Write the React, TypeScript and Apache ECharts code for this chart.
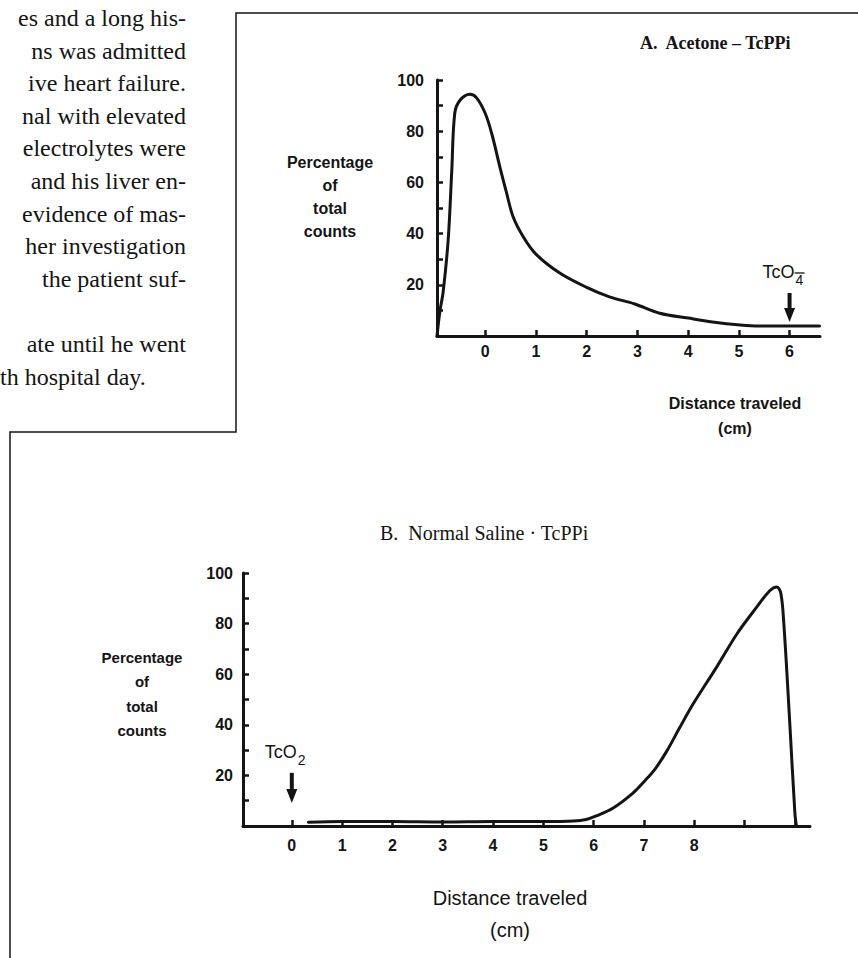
import React, { useEffect, useRef } from 'react';
import * as echarts from 'echarts';

// ---------- text of the page ----------
const bodyLines = [
  'es and a long his-',
  'ns was admitted',
  'ive heart failure.',
  'nal with elevated',
  'electrolytes were',
  'and his liver en-',
  'evidence of mas-',
  'her investigation',
  ' the patient suf-',
  '',
  'ate until he went',
];
const bodyLastLine = 'th hospital day.';

const titleA = 'A.  Acetone \u2013 TcPPi';
const titleB = 'B.  Normal Saline \u00b7 TcPPi';
const axisTitleY = ['Percentage', 'of', 'total', 'counts'];
const axisTitleX = ['Distance traveled', '(cm)'];

// ---------- chart A : Acetone - TcPPi ----------
const acetoneX = [-0.95, -0.89, -0.83, -0.73, -0.66, -0.6, -0.5, -0.3, -0.17, 0, 0.13, 0.29, 0.42, 0.55, 0.75, 1, 1.47, 2, 2.45, 2.95, 3.44, 4, 4.48, 5.03, 5.4, 6, 6.59];
const acetoneY = [0, 10, 17, 37.5, 64, 87, 92, 94.4, 93, 87, 79, 66, 56, 46.6, 38.8, 32, 24.6, 19, 15.3, 12.5, 8.9, 7, 5.5, 4.3, 3.9, 3.9, 3.9];
const xTicksA = [0, 1, 2, 3, 4, 5, 6];
const xLabelsA = ['0', '1', '2', '3', '4', '5', '6'];

// ---------- chart B : Normal Saline - TcPPi ----------
const salineX = [0.33, 1, 2, 3, 4, 5, 5.6, 5.85, 6.05, 6.38, 6.78, 7.0, 7.22, 7.45, 7.7, 7.97, 8.45, 8.85, 9.24, 9.5, 9.64, 9.72, 9.78, 9.9, 10.0, 10.03];
const salineY = [1.5, 1.8, 1.8, 1.6, 1.8, 1.8, 2, 2.6, 4, 7, 13, 17.5, 22.5, 29.5, 38.5, 48, 63, 76, 86.5, 93, 94.5, 92, 80, 40, 5, 0];
const xTicksB = [0, 1, 2, 3, 4, 5, 6, 7, 8, 9, 10];
const xLabelsB = ['0', '1', '2', '3', '4', '5', '6', '7', '8'];

const yTickLabels = ['20', '40', '60', '80', '100'];

// arrow markers (data units): x position, arrow top value, arrow tip value
const markerA = { x: 6, top: 16.8, tip: 5.5, main: 'TcO', sub: '4', overline: true };
const markerB = { x: 0, top: 21, tip: 9.1, main: 'TcO', sub: '2', overline: false };

const INK = '#141414';
const SANS = '"Liberation Sans", Arial, sans-serif';
const SERIF = '"Liberation Serif", "Times New Roman", serif';

function zip(xs: number[], ys: number[]) {
  return xs.map((x, i) => [x, ys[i]]);
}

function txt(id: string, text: string, x: number, y: number, font: string, align: string = 'center') {
  return {
    type: 'text',
    id,
    x,
    y,
    silent: true,
    style: { text, font, fill: INK, align, verticalAlign: 'middle', textAlign: align, textVerticalAlign: 'middle' },
  };
}

function xAxis(gridIndex: number, min: number, max: number, ticks: number[], labels: string[], margin: number) {
  return {
    type: 'value',
    gridIndex,
    min,
    max,
    axisLine: { show: true, onZero: false, lineStyle: { color: INK, width: 3 } },
    axisTick: { show: true, inside: true, length: 6, customValues: ticks, lineStyle: { color: INK, width: 2.5 } },
    axisLabel: {
      show: true,
      customValues: labels.map(Number),
      margin,
      color: INK,
      fontFamily: SANS,
      fontWeight: 'bold',
      fontSize: 16,
    },
    splitLine: { show: false },
  };
}

function yAxis(gridIndex: number, margin: number) {
  return {
    type: 'value',
    gridIndex,
    min: 0,
    max: 100,
    interval: 10,
    axisLine: { show: true, onZero: false, lineStyle: { color: INK, width: 3 } },
    axisTick: { show: true, inside: true, length: 6, lineStyle: { color: INK, width: 2.5 } },
    axisLabel: {
      show: true,
      margin,
      color: INK,
      fontFamily: SANS,
      fontWeight: 'bold',
      fontSize: 16,
      formatter: (v: number) => (yTickLabels.includes(String(v)) ? String(v) : ''),
    },
    splitLine: { show: false },
  };
}

function staticGraphics() {
  const g: any[] = [];
  g.push({
    type: 'polyline',
    id: 'box',
    silent: true,
    shape: { points: [[858, 13], [236, 13], [236, 432], [10, 432], [10, 958]] },
    style: { stroke: INK, lineWidth: 1.5, fill: 'none' },
  });
  bodyLines.forEach((line, k) => {
    if (line) g.push(txt('body' + k, line, 186, 18 + 32.6 * k, '24px ' + SERIF, 'right'));
  });
  g.push(txt('bodyLast', bodyLastLine, 0, 18 + 32.6 * 11, '24px ' + SERIF, 'left'));

  g.push(txt('titleA', titleA, 640, 43, 'bold 18px ' + SERIF, 'left'));
  g.push(txt('titleB', titleB, 380, 533, '20px ' + SERIF, 'left'));

  axisTitleY.forEach((t, i) => {
    g.push(txt('ayA' + i, t, 330, 162 + 23 * i, 'bold 16px ' + SANS));
    g.push(txt('ayB' + i, t, 142, 657 + 24.5 * i, 'bold 15px ' + SANS));
  });
  g.push(txt('axA0', axisTitleX[0], 735, 403, 'bold 16px ' + SANS));
  g.push(txt('axA1', axisTitleX[1], 735, 428, 'bold 16px ' + SANS));
  g.push(txt('axB0', axisTitleX[0], 510, 898, '20px ' + SANS));
  g.push(txt('axB1', axisTitleX[1], 510, 930, '20px ' + SANS));
  return g;
}

function markerGraphics(chart: any, gridIndex: number, m: any, key: string) {
  const top = chart.convertToPixel({ gridIndex }, [m.x, m.top]);
  const tip = chart.convertToPixel({ gridIndex }, [m.x, m.tip]);
  const px = top[0];
  const g: any[] = [];
  g.push({
    type: 'line',
    id: key + 'shaft',
    silent: true,
    shape: { x1: px, y1: top[1], x2: px, y2: tip[1] - 10 },
    style: { stroke: INK, lineWidth: 4 },
  });
  g.push({
    type: 'polygon',
    id: key + 'head',
    silent: true,
    shape: { points: [[px - 5.5, tip[1] - 14], [px + 5.5, tip[1] - 14], [px, tip[1]]] },
    style: { fill: INK },
  });
  const ly = top[1] - 21;
  g.push(txt(key + 'main', m.main, px - 27, ly, '18px ' + SANS, 'left'));
  g.push(txt(key + 'sub', m.sub, px + 6, ly + 8, '14px ' + SANS, 'left'));
  if (m.overline) {
    g.push({
      type: 'line',
      id: key + 'over',
      silent: true,
      shape: { x1: px + 5, y1: ly + 1, x2: px + 15, y2: ly + 1 },
      style: { stroke: INK, lineWidth: 1.3 },
    });
  }
  return g;
}

export default function App() {
  const ref = useRef<HTMLDivElement>(null);

  useEffect(() => {
    if (!ref.current) return;
    const chart = echarts.init(ref.current, null, { renderer: 'svg' });
    const option: any = {
      animation: false,
      backgroundColor: '#ffffff',
      grid: [
        { left: 437, top: 80, width: 383, height: 256, containLabel: false },
        { left: 243, top: 573, width: 567, height: 253, containLabel: false },
      ],
      xAxis: [xAxis(0, -0.95, 6.6, xTicksA, xLabelsA, 7), xAxis(1, -0.97, 10.3, xTicksB, xLabelsB, 11)],
      yAxis: [yAxis(0, 13), yAxis(1, 10)],
      series: [
        {
          type: 'line',
          name: 'Acetone - TcPPi',
          xAxisIndex: 0,
          yAxisIndex: 0,
          data: zip(acetoneX, acetoneY),
          symbol: 'none',
          smooth: 0.35,
          lineStyle: { color: INK, width: 3, join: 'round', cap: 'round' },
        },
        {
          type: 'line',
          name: 'Normal Saline - TcPPi',
          xAxisIndex: 1,
          yAxisIndex: 1,
          data: zip(salineX, salineY),
          symbol: 'none',
          smooth: 0.35,
          lineStyle: { color: INK, width: 3, join: 'round', cap: 'round' },
        },
      ],
    };
    chart.setOption(option);
    const graphic = [
      ...staticGraphics(),
      ...markerGraphics(chart, 0, markerA, 'mA'),
      ...markerGraphics(chart, 1, markerB, 'mB'),
    ];
    chart.setOption({ graphic });
    return () => chart.dispose();
  }, []);

  return (
    <div
      ref={ref}
      style={{ position: 'absolute', left: 0, top: 0, width: 858, height: 958, background: '#fff' }}
    />
  );
}
